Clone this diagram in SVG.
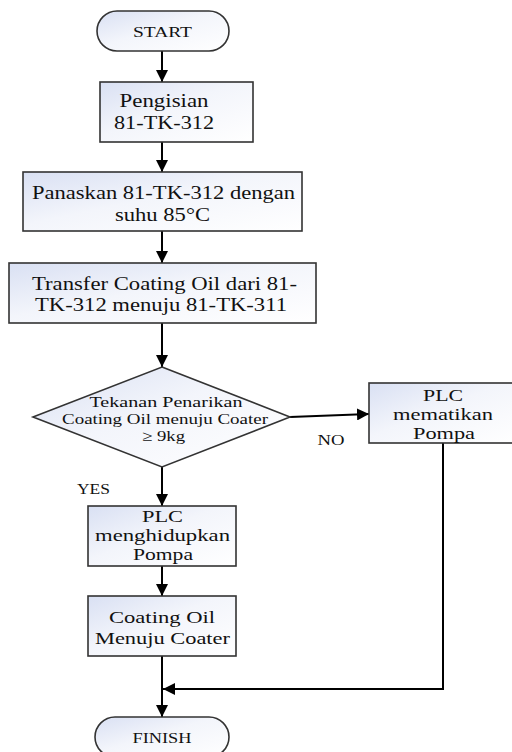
<svg xmlns="http://www.w3.org/2000/svg" width="512" height="752" viewBox="0 0 512 752">
<defs>
<linearGradient id="fillg" x1="0" y1="0" x2="1" y2="1">
<stop offset="0" stop-color="#d9e0f3"/>
<stop offset="0.45" stop-color="#f3f5fb"/>
<stop offset="1" stop-color="#ffffff"/>
</linearGradient>
<marker id="arr" markerUnits="userSpaceOnUse" markerWidth="12" markerHeight="12" refX="12" refY="6" orient="auto">
<path d="M0,0 L12,6 L0,12 z" fill="#000"/>
</marker>
<style>
.shape{fill:url(#fillg);stroke:#333;stroke-width:1.6}
.t{font-family:"Liberation Serif","Times New Roman",serif;fill:#111;text-anchor:middle;font-size:19px}
.p{font-size:16px}
.d{font-size:15px}
.s{font-size:15px}
.lbl{font-family:"Liberation Serif","Times New Roman",serif;fill:#111;font-size:14px;text-anchor:middle}
.c{fill:none;stroke:#000;stroke-width:2}
</style>
</defs>
<rect width="512" height="752" fill="#fff"/>
<g id="connectors">
<line class="c" x1="162" y1="51" x2="162" y2="82" marker-end="url(#arr)"/>
<line class="c" x1="162" y1="142" x2="162" y2="172" marker-end="url(#arr)"/>
<line class="c" x1="162" y1="231" x2="162" y2="263" marker-end="url(#arr)"/>
<line class="c" x1="162" y1="323" x2="162" y2="367" marker-end="url(#arr)"/>
<line class="c" x1="290" y1="417" x2="369" y2="414" marker-end="url(#arr)"/>
<line class="c" x1="162" y1="467" x2="162" y2="506" marker-end="url(#arr)"/>
<line class="c" x1="162" y1="566" x2="162" y2="596" marker-end="url(#arr)"/>
<line class="c" x1="162" y1="656" x2="162" y2="717" marker-end="url(#arr)"/>
<polyline class="c" points="443,443 443,689 163,689" marker-end="url(#arr)"/>
<text class="lbl" x="331" y="445" textLength="27" lengthAdjust="spacingAndGlyphs">NO</text>
<text class="lbl" x="93.5" y="494" textLength="33" lengthAdjust="spacingAndGlyphs">YES</text>
</g>
<g id="start">
<rect class="shape" x="97" y="11" width="132" height="40" rx="20" ry="20"/>
<text class="t s" x="162.5" y="37" textLength="59" lengthAdjust="spacingAndGlyphs">START</text>
</g>
<g id="pengisian">
<rect class="shape" x="100" y="82" width="153" height="60"/>
<text class="t" x="164" y="107" textLength="89" lengthAdjust="spacingAndGlyphs">Pengisian</text>
<text class="t" x="164" y="129" textLength="100" lengthAdjust="spacingAndGlyphs">81-TK-312</text>
</g>
<g id="panaskan">
<rect class="shape" x="23" y="172" width="279" height="59"/>
<text class="t" x="163.5" y="199" textLength="263" lengthAdjust="spacingAndGlyphs">Panaskan 81-TK-312 dengan</text>
<text class="t" x="162.5" y="221" textLength="95" lengthAdjust="spacingAndGlyphs">suhu 85°C</text>
</g>
<g id="transfer">
<rect class="shape" x="9" y="263" width="307" height="60"/>
<text class="t" x="164.5" y="290" textLength="265" lengthAdjust="spacingAndGlyphs">Transfer Coating Oil dari 81-</text>
<text class="t" x="161" y="311" textLength="252" lengthAdjust="spacingAndGlyphs">TK-312 menuju 81-TK-311</text>
</g>
<g id="decision">
<polygon class="shape" points="162,367 290,417 162,467 33,417"/>
<text class="t d" x="166" y="407" textLength="153" lengthAdjust="spacingAndGlyphs">Tekanan Penarikan</text>
<text class="t d" x="165" y="424" textLength="206" lengthAdjust="spacingAndGlyphs">Coating Oil menuju Coater</text>
<text class="t d" x="163.5" y="441" textLength="43" lengthAdjust="spacingAndGlyphs">≥ 9kg</text>
</g>
<g id="plc-off">
<rect class="shape" x="369" y="383" width="148" height="60"/>
<text class="t p" x="443" y="401" textLength="40" lengthAdjust="spacingAndGlyphs">PLC</text>
<text class="t p" x="443" y="420" textLength="100" lengthAdjust="spacingAndGlyphs">mematikan</text>
<text class="t p" x="444" y="439" textLength="62" lengthAdjust="spacingAndGlyphs">Pompa</text>
</g>
<g id="plc-on">
<rect class="shape" x="88" y="506" width="148" height="60"/>
<text class="t p" x="162.5" y="522" textLength="41" lengthAdjust="spacingAndGlyphs">PLC</text>
<text class="t p" x="162.5" y="541" textLength="135" lengthAdjust="spacingAndGlyphs">menghidupkan</text>
<text class="t p" x="163" y="560" textLength="60" lengthAdjust="spacingAndGlyphs">Pompa</text>
</g>
<g id="coating">
<rect class="shape" x="88" y="596" width="148" height="60"/>
<text class="t p" x="162" y="623" textLength="106" lengthAdjust="spacingAndGlyphs">Coating Oil</text>
<text class="t p" x="162.5" y="644" textLength="135" lengthAdjust="spacingAndGlyphs">Menuju Coater</text>
</g>
<g id="finish">
<rect class="shape" x="95" y="717" width="134" height="40" rx="20" ry="20"/>
<text class="t s" x="162" y="743" textLength="59" lengthAdjust="spacingAndGlyphs">FINISH</text>
</g>
</svg>
